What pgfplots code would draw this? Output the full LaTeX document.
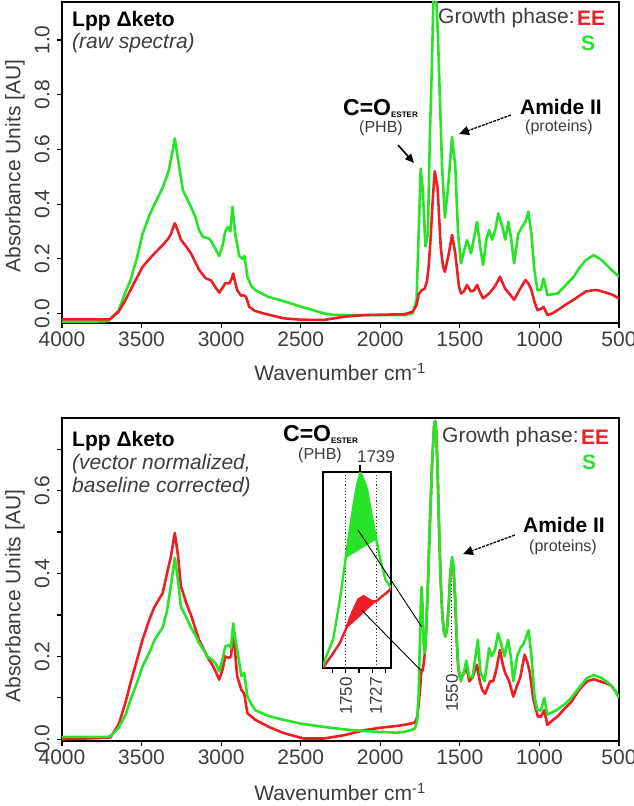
\documentclass[border=0pt]{standalone}
\usepackage{pgfplots}
\pgfplotsset{compat=1.18}
\usepackage{fontspec}
\setmainfont{Liberation Sans}
\usetikzlibrary{arrows.meta}
\definecolor{cred}{RGB}{238,30,36}
\definecolor{cgreen}{RGB}{40,228,40}
\definecolor{tgray}{RGB}{60,60,60}
\newcommand{\fs}[1]{\fontsize{#1}{#1}\selectfont}

\pgfplotsset{
  specax/.style={
    scale only axis, width=557pt, x dir=reverse, xmin=500, xmax=4000,
    xtick={500,1000,1500,2000,2500,3000,3500,4000},
    tick align=outside, tick pos=left,
    major tick length=5pt, minor tick length=5pt,
    axis line style={line width=1.4pt},
    every tick/.style={black, line width=1.1pt},
    /pgf/number format/assume math mode=true,
    tick label style={font=\fs{21}, text=tgray},
    yticklabel shift=4pt,
    yticklabel style={rotate=90, anchor=south, /pgf/number format/fixed, /pgf/number format/fixed zerofill, /pgf/number format/precision=1},
    xticklabel style={/pgf/number format/1000 sep={}},
    every axis plot/.append style={line width=2.6pt, line join=round},
  }
}

\begin{document}
\begin{tikzpicture}
\useasboundingbox (0pt,0pt) rectangle (633pt,806pt);

% ---------------- TOP: raw spectra ----------------
\begin{axis}[specax, at={(62pt,483pt)}, anchor=south west, height=321pt,
  ymin=-0.035, ymax=1.139, ytick={0,0.2,0.4,0.6,0.8,1.0}]
\addplot[cgreen] coordinates {
(4000,-0.030) (3800,-0.030) (3710,-0.028) (3680,-0.010) (3645,0.010) (3600,0.080)
(3570,0.120) (3530,0.200) (3494,0.290) (3450,0.360) (3418,0.400) (3367,0.460)
(3330,0.520) (3310,0.580) (3291,0.640) (3270,0.560) (3240,0.450) (3215,0.420)
(3190,0.390) (3160,0.350) (3139,0.305) (3114,0.280) (3080,0.275) (3063,0.265)
(3040,0.240) (3012,0.210) (2990,0.250) (2974,0.300) (2957,0.317) (2942,0.300)
(2929,0.390) (2911,0.290) (2886,0.210) (2866,0.200) (2853,0.210) (2835,0.134)
(2810,0.100) (2785,0.085) (2700,0.060) (2607,0.045) (2500,0.025) (2400,0.008)
(2354,0.000) (2300,-0.005) (2200,-0.006) (2000,-0.006) (1850,-0.006) (1797,0.000)
(1772,0.050) (1759,0.290) (1746,0.530) (1734,0.460) (1716,0.245) (1701,0.290)
(1688,0.660) (1676,0.900) (1666,1.150) (1650,1.170) (1638,1.020) (1625,0.780)
(1612,0.540) (1594,0.350) (1574,0.460) (1549,0.645) (1529,0.540) (1511,0.290)
(1493,0.183) (1473,0.230) (1455,0.268) (1430,0.220) (1413,0.270) (1392,0.335)
(1372,0.244) (1354,0.177) (1334,0.268) (1316,0.305) (1296,0.270) (1278,0.305)
(1258,0.366) (1233,0.317) (1215,0.270) (1195,0.335) (1177,0.270) (1159,0.183)
(1134,0.290) (1109,0.317) (1088,0.335) (1070,0.372) (1050,0.290) (1032,0.158)
(1012,0.085) (992,0.085) (974,0.128) (949,0.067) (920,0.070) (886,0.073)
(840,0.100) (785,0.134) (750,0.165) (709,0.195) (658,0.213) (608,0.195)
(557,0.165) (500,0.134)};
\addplot[cred] coordinates {
(4000,-0.022) (3710,-0.022) (3696,-0.020) (3645,0.006) (3600,0.050) (3570,0.085)
(3530,0.130) (3494,0.170) (3450,0.200) (3418,0.220) (3367,0.250) (3330,0.275)
(3316,0.290) (3291,0.330) (3270,0.300) (3253,0.270) (3220,0.245) (3190,0.220)
(3160,0.185) (3139,0.160) (3100,0.130) (3063,0.120) (3035,0.095) (3012,0.076)
(2990,0.095) (2974,0.110) (2949,0.110) (2935,0.125) (2924,0.146) (2910,0.110)
(2899,0.085) (2875,0.065) (2860,0.067) (2843,0.060) (2823,0.024) (2790,0.010)
(2734,0.000) (2607,-0.018) (2500,-0.023) (2354,-0.024) (2227,-0.012) (2101,-0.006)
(1848,-0.003) (1797,0.006) (1772,0.030) (1759,0.070) (1740,0.085) (1721,0.090)
(1706,0.120) (1696,0.170) (1683,0.280) (1671,0.410) (1658,0.520) (1640,0.460)
(1630,0.350) (1620,0.240) (1605,0.170) (1594,0.152) (1569,0.220) (1549,0.287)
(1529,0.220) (1506,0.100) (1493,0.073) (1475,0.080) (1455,0.104) (1430,0.080)
(1410,0.085) (1392,0.104) (1375,0.080) (1354,0.055) (1316,0.073) (1278,0.100)
(1248,0.134) (1230,0.110) (1215,0.090) (1190,0.073) (1159,0.050) (1126,0.085)
(1088,0.122) (1070,0.110) (1050,0.085) (1030,0.040) (1012,0.012) (987,0.018)
(974,0.024) (949,-0.006) (920,0.000) (886,0.012) (840,0.030) (785,0.050)
(740,0.068) (709,0.080) (660,0.085) (633,0.085) (582,0.076) (540,0.068) (500,0.055)};
\end{axis}

% ---------------- BOTTOM: normalized ----------------
\begin{axis}[specax, at={(62pt,65pt)}, anchor=south west, height=323pt,
  ymin=-0.004, ymax=0.775, ytick={0,0.2,0.4,0.6}, minor ytick={0.1,0.3,0.5,0.7}]
\draw[tgray, line width=1.2pt, dotted] (1550,0.42) -- (1550,0.15);
\addplot[cred] coordinates {
(4000,0.000) (3710,0.004) (3696,0.005) (3645,0.035) (3600,0.090) (3570,0.135)
(3530,0.190) (3494,0.240) (3450,0.290) (3418,0.320) (3367,0.353) (3340,0.400)
(3316,0.440) (3291,0.498) (3270,0.440) (3253,0.370) (3220,0.330) (3190,0.300)
(3160,0.265) (3139,0.240) (3100,0.210) (3088,0.200) (3050,0.176) (3030,0.160)
(3012,0.144) (2990,0.170) (2974,0.200) (2949,0.196) (2938,0.200) (2924,0.265)
(2910,0.200) (2899,0.152) (2873,0.120) (2855,0.110) (2835,0.063) (2810,0.055)
(2785,0.047) (2700,0.030) (2607,0.015) (2481,0.002) (2354,0.002) (2227,0.010)
(2101,0.022) (2000,0.028) (1900,0.032) (1848,0.035) (1785,0.040) (1770,0.050)
(1760,0.080) (1750,0.120) (1745,0.150) (1740,0.168) (1735,0.165) (1728,0.180)
(1720,0.208) (1712,0.260) (1700,0.380) (1690,0.500) (1675,0.660) (1662,0.755)
(1655,0.768) (1648,0.740) (1640,0.650) (1630,0.500) (1620,0.380) (1610,0.300)
(1600,0.260) (1590,0.248) (1580,0.270) (1570,0.320) (1560,0.400) (1549,0.430)
(1540,0.410) (1530,0.340) (1520,0.240) (1510,0.170) (1500,0.150) (1493,0.150)
(1473,0.160) (1460,0.176) (1440,0.140) (1420,0.150) (1392,0.180) (1375,0.140)
(1360,0.120) (1341,0.110) (1310,0.140) (1290,0.140) (1270,0.170) (1248,0.216)
(1230,0.180) (1215,0.160) (1190,0.140) (1164,0.103) (1140,0.130) (1120,0.150)
(1093,0.204) (1075,0.185) (1060,0.160) (1040,0.100) (1010,0.055) (990,0.055)
(970,0.070) (950,0.035) (920,0.045) (886,0.055) (840,0.075) (800,0.090)
(750,0.120) (700,0.140) (660,0.145) (620,0.140) (580,0.135) (550,0.130)
(520,0.115) (500,0.100)};
\addplot[cgreen] coordinates {
(4000,0.006) (3710,0.006) (3696,0.008) (3645,0.027) (3600,0.060) (3570,0.095)
(3530,0.135) (3494,0.176) (3450,0.210) (3418,0.240) (3367,0.270) (3340,0.310)
(3316,0.370) (3291,0.438) (3270,0.380) (3253,0.320) (3220,0.295) (3190,0.270)
(3160,0.250) (3139,0.232) (3100,0.210) (3088,0.200) (3050,0.190) (3030,0.180)
(3012,0.164) (2990,0.195) (2974,0.224) (2949,0.228) (2938,0.220) (2924,0.280)
(2910,0.240) (2899,0.216) (2880,0.170) (2873,0.152) (2855,0.160) (2835,0.103)
(2810,0.085) (2785,0.070) (2700,0.056) (2607,0.047) (2500,0.038) (2354,0.030)
(2227,0.024) (2101,0.020) (2000,0.018) (1900,0.016) (1848,0.018) (1785,0.025)
(1770,0.040) (1760,0.100) (1752,0.220) (1745,0.330) (1740,0.368) (1735,0.330)
(1728,0.230) (1720,0.208) (1712,0.260) (1700,0.380) (1690,0.500) (1675,0.660)
(1662,0.755) (1655,0.768) (1648,0.740) (1640,0.650) (1630,0.500) (1620,0.380)
(1610,0.300) (1600,0.260) (1590,0.248) (1580,0.270) (1570,0.320) (1560,0.400)
(1549,0.440) (1540,0.420) (1530,0.350) (1520,0.250) (1510,0.180) (1500,0.150)
(1493,0.140) (1473,0.165) (1460,0.190) (1440,0.150) (1420,0.150) (1387,0.240)
(1370,0.160) (1345,0.140) (1330,0.180) (1316,0.220) (1300,0.200) (1280,0.215)
(1260,0.256) (1240,0.230) (1220,0.200) (1197,0.240) (1180,0.200) (1164,0.140)
(1140,0.200) (1120,0.220) (1100,0.230) (1068,0.263) (1050,0.200) (1030,0.100)
(1012,0.070) (990,0.070) (970,0.100) (950,0.060) (920,0.065) (886,0.072)
(840,0.085) (800,0.100) (750,0.125) (700,0.148) (660,0.155) (620,0.150)
(580,0.140) (550,0.130) (520,0.115) (500,0.100)};
\end{axis}

% ---------------- INSET ----------------
\begin{axis}[at={(323pt,138pt)}, anchor=south west, scale only axis,
  width=68pt, height=196pt, x dir=reverse, xmin=1716, xmax=1767, ymin=0, ymax=1,
  xtick={1720,1730,1740,1750,1760}, xticklabels={}, ytick=\empty,
  tick align=outside, xtick pos=bottom, major tick length=5pt,
  every tick/.style={black, line width=1.1pt},
  axis line style={line width=1.6pt}, axis background/.style={fill=white}]
\draw[tgray, line width=1.2pt, dotted] (1750,0) -- (1750,1);
\draw[tgray, line width=1.2pt, dotted] (1727,0) -- (1727,1);
\addplot[fill=cgreen, draw=none] coordinates {
(1750,0.560) (1747,0.700) (1744.2,0.825) (1741.5,0.930) (1739,0.995) (1736.5,0.960)
(1734,0.910) (1730.3,0.770) (1727,0.655)} -- cycle;
\addplot[fill=cred, draw=none] coordinates {
(1750,0.196) (1747,0.250) (1744,0.300) (1740.4,0.350) (1736.6,0.366) (1732.8,0.350)
(1730,0.340) (1727,0.340)} -- cycle;
\addplot[cred, line width=2.4pt] coordinates {
(1767,0.000) (1763,0.040) (1759.4,0.075) (1754.3,0.128) (1750,0.196) (1747,0.250)
(1744,0.300) (1740.4,0.350) (1736.6,0.366) (1732.8,0.350) (1730,0.340) (1727,0.340)
(1722.7,0.366) (1719,0.385) (1716,0.405)};
\addplot[cgreen, line width=2.4pt] coordinates {
(1767,0.008) (1764,0.070) (1759.4,0.145) (1754.3,0.350) (1750,0.560) (1747,0.700)
(1744.2,0.825) (1741.5,0.930) (1739,0.995) (1736.5,0.960) (1734,0.910) (1730.3,0.770)
(1727,0.655) (1723.9,0.550) (1720.1,0.450) (1716,0.410)};
\end{axis}

% ---------------- labels ----------------
\node[rotate=90, text=tgray, font=\fs{21}] at (15pt,640pt) {Absorbance Units [AU]};
\node[rotate=90, text=tgray, font=\fs{21}] at (15pt,210pt) {Absorbance Units [AU]};
\node[text=tgray, font=\fs{21}] at (340pt,434pt) {Wavenumber cm\textsuperscript{-1}};
\node[text=tgray, font=\fs{21}, inner sep=0pt] at (340pt,14pt) {Wavenumber cm\textsuperscript{-1}};

% top annotations
\node[anchor=west, font=\fs{21}\bfseries, inner sep=0pt] at (72pt,785pt) {Lpp Δketo};
\node[anchor=west, font=\fs{21}\itshape, text=tgray, inner sep=0pt] at (72pt,763pt) {(raw spectra)};
\node[anchor=west, font=\fs{21}, text=tgray, inner sep=0pt] at (438pt,788pt) {Growth phase:};
\node[anchor=west, font=\fs{21}\bfseries, text=cred, inner sep=0pt] at (577pt,788pt) {EE};
\node[font=\fs{21}\bfseries, text=cgreen, inner sep=0pt] at (588pt,763pt) {S};
\node[anchor=base west, font=\fs{23}\bfseries, inner sep=0pt] at (343pt,690pt) {C=O\raisebox{-2pt}{\fs{8}ESTER}};
\node[font=\fs{16}, text=tgray, inner sep=0pt] at (381pt,678pt) {(PHB)};
\draw[line width=1.6pt, -{Triangle[length=9pt,width=8pt]}] (398pt,661pt) -- (414pt,643pt);
\node[font=\fs{21}\bfseries, inner sep=0pt] at (561pt,699pt) {Amide II};
\node[font=\fs{16}, text=tgray, inner sep=0pt] at (559pt,679pt) {(proteins)};
\draw[line width=1.3pt, dash pattern=on 3pt off 1pt, -{Triangle[length=10pt,width=9pt]}] (511pt,691pt) -- (459pt,672pt);

% bottom annotations
\node[anchor=west, font=\fs{21}\bfseries, inner sep=0pt] at (72pt,365pt) {Lpp Δketo};
\node[anchor=west, font=\fs{21}\itshape, text=tgray, inner sep=0pt] at (72pt,342pt) {(vector normalized,};
\node[anchor=west, font=\fs{21}\itshape, text=tgray, inner sep=0pt] at (72pt,319pt) {baseline corrected)};
\node[anchor=west, font=\fs{21}, text=tgray, inner sep=0pt] at (442pt,369pt) {Growth phase:};
\node[anchor=west, font=\fs{21}\bfseries, text=cred, inner sep=0pt] at (581pt,369pt) {EE};
\node[font=\fs{21}\bfseries, text=cgreen, inner sep=0pt] at (589pt,344pt) {S};
\node[anchor=base west, font=\fs{23}\bfseries, inner sep=0pt] at (283pt,364pt) {C=O\raisebox{-2pt}{\fs{8}ESTER}};
\node[font=\fs{16}, text=tgray, inner sep=0pt] at (320pt,351pt) {(PHB)};
\node[font=\fs{17}, text=tgray, inner sep=0pt] at (376pt,349pt) {1739};
\draw[line width=1.5pt] (360pt,334pt) -- (360pt,341pt);
\node[rotate=90, font=\fs{17}, text=tgray, inner sep=0pt] at (346pt,110pt) {1750};
\node[rotate=90, font=\fs{17}, text=tgray, inner sep=0pt] at (376pt,110pt) {1727};
\node[rotate=90, font=\fs{17}, text=tgray, inner sep=0pt] at (452pt,113pt) {1550};
\draw[line width=0.9pt] (358pt,276pt) -- (421.5pt,179.5pt);
\draw[line width=0.9pt] (361.5pt,196pt) -- (420.5pt,136pt);
\node[font=\fs{21}\bfseries, inner sep=0pt] at (564pt,281pt) {Amide II};
\node[font=\fs{16}, text=tgray, inner sep=0pt] at (563pt,259pt) {(proteins)};
\draw[line width=1.3pt, dash pattern=on 3pt off 1pt, -{Triangle[length=10pt,width=9pt]}] (515pt,271pt) -- (463pt,252pt);
\end{tikzpicture}
\end{document}
